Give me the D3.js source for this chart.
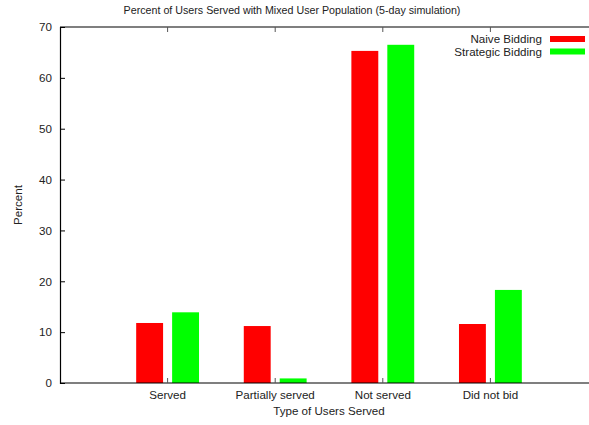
<!DOCTYPE html>
<html>
<head>
<meta charset="utf-8">
<script src="https://cdn.jsdelivr.net/npm/d3@7"></script>
<style>
  body { margin: 0; background: #fff; }
  text { font-family: "Liberation Sans", Arial, sans-serif; fill: #222; }
</style>
</head>
<body>
<div id="chart"></div>
<script>
// data
const categories = ["Served", "Partially served", "Not served", "Did not bid"];
const seriesNames = ["Naive Bidding", "Strategic Bidding"];
const naive = [11.8, 11.2, 65.3, 11.6];
const strategic = [13.9, 0.9, 66.5, 18.3];
const seriesColors = ["#ff0000", "#00ff00"];
const yTicks = [0, 10, 20, 30, 40, 50, 60, 70];

const W = 589, H = 425;
const margin = {top: 27, right: -9, bottom: 42, left: 60};
const width = W - margin.left - margin.right;
const height = H - margin.top - margin.bottom;
const fs = 11.6;

const svg = d3.select("#chart").append("svg")
    .attr("width", W)
    .attr("height", H);

const g = svg.append("g")
    .attr("transform", "translate(" + margin.left + "," + margin.top + ")");

// x runs 0..5, categories sit at 1..4
const x = d3.scaleLinear().domain([0, 5]).range([0, width]);
const y = d3.scaleLinear().domain([0, 70]).range([height, 0]);

const barW = 0.25, barOff = 0.167;
const series = [naive, strategic];

series.forEach(function(vals, s) {
    g.append("g").selectAll("rect")
        .data(vals)
        .enter().append("rect")
        .attr("x", (d, i) => x(i + 1 + (s === 0 ? -barOff : barOff) - barW / 2))
        .attr("width", x(barW) - x(0))
        .attr("y", d => y(d))
        .attr("height", d => y(0) - y(d))
        .attr("fill", seriesColors[s]);
});

// left axis
const yAxis = g.append("g")
    .call(d3.axisLeft(y).tickValues(yTicks).tickSize(-5).tickPadding(8));
yAxis.select(".domain").attr("stroke", "#000").attr("stroke-width", 1.2);
yAxis.selectAll("line").attr("stroke", "#000");
yAxis.selectAll("text").attr("font-size", fs).style("fill", "#222");

// bottom and top borders
g.append("line").attr("x1", 0).attr("x2", width).attr("y1", height).attr("y2", height)
    .attr("stroke", "#000").attr("stroke-width", 1.2);
g.append("line").attr("x1", 0).attr("x2", width).attr("y1", 0).attr("y2", 0)
    .attr("stroke", "#000").attr("stroke-width", 1.2);

// category ticks, bottom and mirrored on top
categories.forEach(function(c, i) {
    g.append("line").attr("x1", x(i + 1)).attr("x2", x(i + 1))
        .attr("y1", height).attr("y2", height - 5).attr("stroke", "#555");
    g.append("line").attr("x1", x(i + 1)).attr("x2", x(i + 1))
        .attr("y1", 0).attr("y2", 5).attr("stroke", "#555");
    g.append("text")
        .attr("x", x(i + 1))
        .attr("y", height + 16)
        .attr("text-anchor", "middle")
        .attr("font-size", fs)
        .text(c);
});

// axis titles
svg.append("text")
    .attr("x", margin.left + width / 2)
    .attr("y", 415)
    .attr("text-anchor", "middle")
    .attr("font-size", fs)
    .text("Type of Users Served");

svg.append("text")
    .attr("transform", "translate(22," + (margin.top + height / 2) + ") rotate(-90)")
    .attr("text-anchor", "middle")
    .attr("font-size", fs)
    .text("Percent");

svg.append("text")
    .attr("x", 292)
    .attr("y", 14)
    .attr("text-anchor", "middle")
    .attr("font-size", 10.7)
    .text("Percent of Users Served with Mixed User Population (5-day simulation)");

// legend
seriesNames.forEach(function(n, i) {
    const ly = 39 + i * 12.5;
    svg.append("text")
        .attr("x", 542)
        .attr("y", ly + 4)
        .attr("text-anchor", "end")
        .attr("font-size", fs)
        .text(n);
    svg.append("rect")
        .attr("x", 550)
        .attr("y", ly - 3)
        .attr("width", 35)
        .attr("height", 6)
        .attr("fill", seriesColors[i]);
});
</script>
</body>
</html>
